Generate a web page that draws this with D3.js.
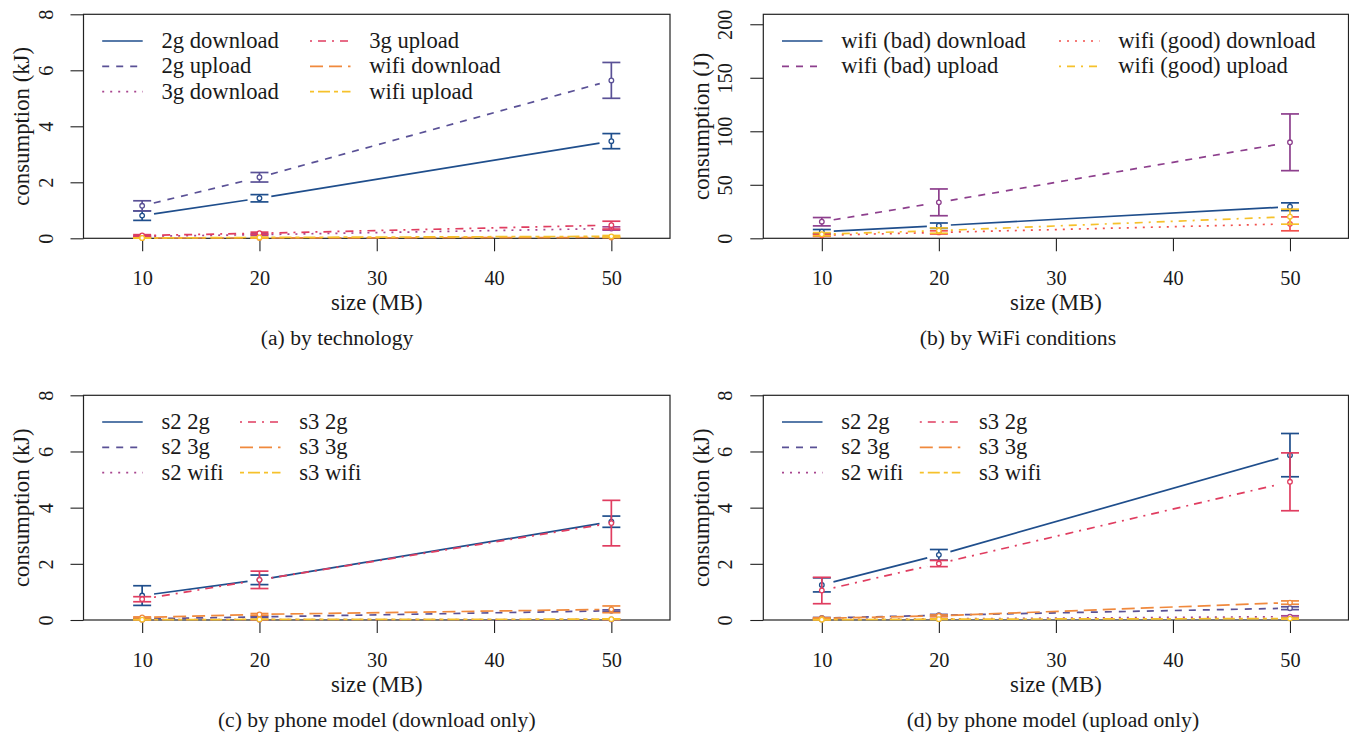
<!DOCTYPE html>
<html><head><meta charset="utf-8">
<script src="https://cdn.jsdelivr.net/npm/d3@7"></script>
<style>
body{margin:0;background:#fff}
svg{display:block}
</style>
</head><body>
<svg id="c" width="1349" height="734"></svg>
<script>
// ---------- data ----------
const sizes = [10, 20, 50];
const xTicks = [10, 20, 30, 40, 50];
const kJTicks = [0, 2, 4, 6, 8];
const JTicks = [0, 50, 100, 150, 200];

// (a) by technology (kJ)
const aNames = ["2g download", "2g upload", "3g download", "3g upload", "wifi download", "wifi upload"];
const aMeans = [[0.81, 1.43, 3.47], [1.16, 2.18, 5.64], [0.07, 0.13, 0.35], [0.10, 0.18, 0.47], [0.01, 0.01, 0.03], [0.01, 0.03, 0.07]];
const aErrs  = [[0.17, 0.13, 0.27], [0.18, 0.17, 0.64], [0.02, 0.03, 0.06], [0.03, 0.04, 0.14], [0.005, 0.005, 0.01], [0.005, 0.01, 0.03]];

// (b) by WiFi conditions (J)
const bNames = ["wifi (bad) download", "wifi (bad) upload", "wifi (good) download", "wifi (good) upload"];
const bMeans = [[6.2, 11.8, 29.5], [15.5, 33.6, 89.7], [2.8, 5.5, 13.5], [3.8, 7.2, 20.2]];
const bErrs  = [[2.0, 2.5, 3.6], [3.9, 12.5, 26.5], [1.0, 1.5, 6.5], [1.5, 2.5, 7.0]];

// (c) by phone model, download only (kJ)
const cNames = ["s2 2g", "s2 3g", "s2 wifi", "s3 2g", "s3 3g", "s3 wifi"];
const cMeans = [[0.87, 1.43, 3.50], [0.04, 0.11, 0.33], [0.01, 0.01, 0.02], [0.74, 1.43, 3.45], [0.09, 0.20, 0.38], [0.01, 0.02, 0.03]];
const cErrs  = [[0.35, 0.17, 0.20], [0.01, 0.02, 0.03], [0.002, 0.003, 0.005], [0.09, 0.31, 0.81], [0.02, 0.03, 0.12], [0.003, 0.005, 0.01]];

// (d) by phone model, upload only (kJ)
const dNames = ["s2 2g", "s2 3g", "s2 wifi", "s3 2g", "s3 3g", "s3 wifi"];
const dMeans = [[1.25, 2.32, 5.87], [0.07, 0.17, 0.42], [0.02, 0.04, 0.12], [1.05, 2.01, 4.92], [0.06, 0.15, 0.62], [0.01, 0.03, 0.05]];
const dErrs  = [[0.25, 0.19, 0.77], [0.02, 0.03, 0.05], [0.01, 0.01, 0.03], [0.47, 0.11, 1.03], [0.02, 0.03, 0.06], [0.005, 0.01, 0.02]];

// ---------- styles ----------
const pal6 = ["#1f4e8c", "#5a5196", "#a8468f", "#e03d60", "#f0893d", "#f6c12b"];
const pal4 = ["#1f4e8c", "#8d3f8d", "#f2504c", "#f6c12b"];
const dashes = [null, "7,7", "2,6", "2,6,8,6", "13,6", "4,4,12,4"];

const panels = [
  {left: 83.5, right: 670, top: 14.3, bottom: 238.3, ymax: 8, ticks: kJTicks, ylab: "consumption (kJ)",
   names: aNames, means: aMeans, errs: aErrs, colors: pal6, col2: 226.5, caption: "(a) by technology", capDx: -39.7},
  {left: 763.3, right: 1348.5, top: 14.3, bottom: 238.3, ymax: 209.3, ticks: JTicks, ylab: "consumption (J)",
   names: bNames, means: bMeans, errs: bErrs, colors: pal4, col2: 295.7, caption: "(b) by WiFi conditions", capDx: -38},
  {left: 83.5, right: 670, top: 395.3, bottom: 620, ymax: 8, ticks: kJTicks, ylab: "consumption (kJ)",
   names: cNames, means: cMeans, errs: cErrs, colors: pal6, col2: 156.5, caption: "(c) by phone model (download only)", capDx: 0},
  {left: 763.3, right: 1348.5, top: 395.3, bottom: 620, ymax: 8, ticks: kJTicks, ylab: "consumption (kJ)",
   names: dNames, means: dMeans, errs: dErrs, colors: pal6, col2: 156.5, caption: "(d) by phone model (upload only)", capDx: -3}
];

const FONT = "Liberation Serif, DejaVu Serif, Noto Serif, Latin Modern Roman, TeX Gyre Termes, Nimbus Roman, FreeSerif, Times New Roman, Times, Georgia, serif";
const svg = d3.select("#c").style("font-family", FONT);

// fit font sizes to the widths measured on the reference
function fitSize(str, target, base) {
  const t = svg.append("text").style("font-family", FONT).attr("font-size", base).text(str);
  const w = t.node().getComputedTextLength();
  t.remove();
  return w > 0 ? base * target / w : base;
}
const FS_LAB = fitSize("size (MB)", 91.7, 22);
const FS_LEG = fitSize("2g download", 117.6, 22);
const FS_TICK = fitSize("10", 20.3, 20);
const FS_CAP = fitSize("(a) by technology", 152.6, 22);

const LW = 1.7, GAP = 12, CAP = 9, INK = "#1a1a1a";

panels.forEach(p => {
  const g = svg.append("g");
  const x = d3.scaleLinear().domain([5, 55]).range([p.left, p.right]);
  const y = d3.scaleLinear().domain([0, p.ymax]).range([p.bottom, p.top]);

  // y axis
  const ya = g.append("g").attr("transform", `translate(${p.left},0)`)
    .call(d3.axisLeft(y).tickValues(p.ticks).tickSize(13).tickSizeOuter(0).tickFormat(d3.format("d")));
  ya.attr("font-family", null).style("font-family", FONT);
  ya.select(".domain").remove();
  ya.selectAll("line").attr("stroke", "#222").attr("stroke-width", 1.1);
  ya.selectAll("text").attr("x", null).attr("dy", null).attr("text-anchor", "middle")
    .attr("font-size", FS_TICK).attr("fill", INK)
    .attr("transform", "translate(-31,0) rotate(-90)");

  // x axis
  const xa = g.append("g").attr("transform", `translate(0,${p.bottom})`)
    .call(d3.axisBottom(x).tickValues(xTicks).tickSize(13).tickSizeOuter(0));
  xa.attr("font-family", null).style("font-family", FONT);
  xa.select(".domain").remove();
  xa.selectAll("line").attr("stroke", "#222").attr("stroke-width", 1.1);
  xa.selectAll("text").attr("y", 47).attr("dy", null).attr("font-size", FS_TICK).attr("fill", INK);

  // box
  g.append("rect").attr("x", p.left).attr("y", p.top)
    .attr("width", p.right - p.left).attr("height", p.bottom - p.top)
    .attr("fill", "none").attr("stroke", "#222").attr("stroke-width", 1.2);

  // labels
  g.append("text").attr("text-anchor", "middle").attr("font-size", FS_LAB).attr("fill", INK)
    .attr("transform", `translate(${p.left - 54.5},${(p.top + p.bottom) / 2}) rotate(-90)`)
    .text(p.ylab);
  g.append("text").attr("text-anchor", "middle").attr("font-size", FS_LAB).attr("fill", INK)
    .attr("x", x(30)).attr("y", p.bottom + 72).text("size (MB)");
  g.append("text").attr("text-anchor", "middle").attr("font-size", FS_CAP).attr("fill", INK)
    .attr("x", x(30) + p.capDx).attr("y", p.bottom + 107).text(p.caption);

  // series
  p.names.forEach((name, i) => {
    const col = p.colors[i];
    const pts = sizes.map((s, j) => [x(s), y(p.means[i][j])]);
    // connecting lines with gaps around the points
    for (let j = 0; j < pts.length - 1; j++) {
      const [x0, y0] = pts[j], [x1, y1] = pts[j + 1];
      const len = Math.hypot(x1 - x0, y1 - y0);
      if (len <= 2 * GAP) continue;
      const ux = (x1 - x0) / len, uy = (y1 - y0) / len;
      g.append("line")
        .attr("x1", x0 + ux * GAP).attr("y1", y0 + uy * GAP)
        .attr("x2", x1 - ux * GAP).attr("y2", y1 - uy * GAP)
        .attr("stroke", col).attr("stroke-width", LW)
        .attr("stroke-dasharray", dashes[i]);
    }
    // error bars + points
    sizes.forEach((s, j) => {
      const m = p.means[i][j], e = p.errs[i][j];
      const xs = x(s), yt = y(m + e), yb = y(Math.max(0, m - e));
      g.append("line").attr("x1", xs).attr("x2", xs).attr("y1", yt).attr("y2", yb)
        .attr("stroke", col).attr("stroke-width", LW);
      [yt, yb].forEach(yy => g.append("line").attr("x1", xs - CAP).attr("x2", xs + CAP)
        .attr("y1", yy).attr("y2", yy).attr("stroke", col).attr("stroke-width", LW));
      g.append("circle").attr("cx", xs).attr("cy", y(m)).attr("r", 2.3)
        .attr("fill", "#fff").attr("stroke", col).attr("stroke-width", 1.3);
    });
  });

  // legend (column-major, two columns)
  const rows = Math.ceil(p.names.length / 2);
  const rowY = [26.7, 52, 77.3];
  p.names.forEach((name, i) => {
    const c = Math.floor(i / rows), r = i % rows;
    const lx = p.left + (c === 0 ? 18.7 : p.col2);
    const ly = p.top + rowY[r];
    g.append("line").attr("x1", lx).attr("x2", lx + 40.5).attr("y1", ly).attr("y2", ly)
      .attr("stroke", p.colors[i]).attr("stroke-width", LW)
      .attr("stroke-dasharray", dashes[i]);
    g.append("text").attr("x", lx + 59.2).attr("y", ly + 7).attr("font-size", FS_LEG)
      .attr("fill", INK).text(name);
  });
});
</script>
</body></html>
